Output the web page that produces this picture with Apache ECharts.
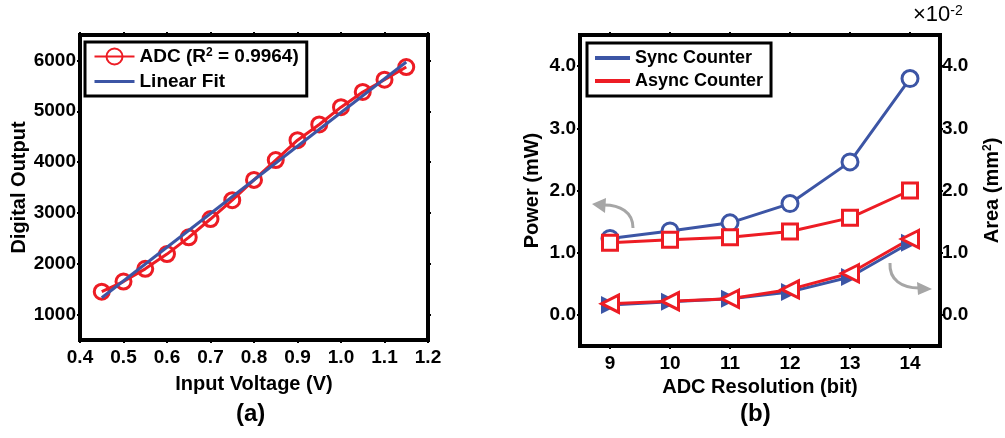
<!DOCTYPE html>
<html>
<head>
<meta charset="utf-8">
<script src="https://cdn.jsdelivr.net/npm/echarts@6/dist/echarts.min.js"></script>
<style>
  html, body { margin: 0; padding: 0; background: #fff; }
  #chart { width: 1005px; height: 438px; }
</style>
</head>
<body>
<div id="chart"></div>
<script>
// (a) ADC transfer curve
const voltage = [0.45, 0.5, 0.55, 0.6, 0.65, 0.7, 0.75, 0.8, 0.85, 0.9, 0.95, 1.0, 1.05, 1.1, 1.15];
const adcOutput = [1450, 1650, 1900, 2190, 2520, 2880, 3250, 3650, 4040, 4430, 4740, 5080, 5380, 5620, 5870];
const fitVoltage = [0.45, 1.15];
const fitOutput = [1330, 5970];
const voltageTicks = [0.4, 0.5, 0.6, 0.7, 0.8, 0.9, 1.0, 1.1, 1.2];
const outputTicks = [1000, 2000, 3000, 4000, 5000, 6000];

// (b) power / area vs resolution
const resolution = ["9", "10", "11", "12", "13", "14"];
const powerSync = [1.23, 1.35, 1.48, 1.79, 2.46, 3.80];
const powerAsync = [1.16, 1.21, 1.25, 1.34, 1.56, 2.00];
// area in units of 1e-2 mm^2
const areaSync = [0.16, 0.21, 0.26, 0.37, 0.61, 1.16];
const areaAsync = [0.18, 0.22, 0.26, 0.41, 0.67, 1.22];
const powerTicks = [0, 1, 2, 3, 4];

const RED = "#ED1C24";
const BLUE = "#3C55A5";
const FONT = "'Liberation Sans', Arial, sans-serif";

const chart = echarts.init(document.getElementById("chart"), null, { renderer: "canvas" });

const labelStyle = {
  color: "#000",
  fontFamily: FONT,
  fontWeight: "bold",
  fontSize: 19,
};
const supStyle = { fontFamily: FONT, fontWeight: "bold", fontSize: 12, verticalAlign: "top", lineHeight: 12 };
const nameStyle = {
  color: "#000",
  fontFamily: FONT,
  fontWeight: "bold",
  fontSize: 20,
  rich: { s: supStyle },
};
const tick = () => ({ show: true, inside: false, length: 3, lineStyle: { color: "#000", width: 2 } });
// plot frame drawn by the axis lines
const frame = () => ({ show: true, onZero: false, lineStyle: { color: "#000", width: 4, cap: "square" } });

const options = {
  backgroundColor: "#fff",
  animation: false,
  grid: [
    { left: 80, right: 577, top: 35, bottom: 98 },
    { left: 580, right: 65, top: 35, bottom: 92 },
  ],
  legend: [
    {
      data: [
        { name: "ADC" },
        {
          name: "Linear Fit",
          itemStyle: { color: "rgba(0,0,0,0)", borderColor: "rgba(0,0,0,0)", borderWidth: 0 },
          lineStyle: { color: BLUE, width: 3 },
        },
      ],
      left: 85,
      top: 42,
      orient: "vertical",
      itemGap: 6,
      itemWidth: 40,
      itemHeight: 20,
      padding: [5, 8, 5, 8],
      borderColor: "#000",
      borderWidth: 3,
      backgroundColor: "#fff",
      formatter: (name) => (name === "ADC" ? "ADC (R{s|2} = 0.9964)" : name),
      textStyle: { ...labelStyle, rich: { s: supStyle } },
    },
    {
      data: [
        { name: "Sync Counter", itemStyle: { color: BLUE, borderWidth: 0 } },
        { name: "Async Counter", itemStyle: { color: RED, borderWidth: 0 } },
      ],
      left: 587,
      top: 43,
      orient: "vertical",
      itemGap: 5,
      itemWidth: 35,
      itemHeight: 4,
      icon: "rect",
      padding: [6, 8, 6, 8],
      borderColor: "#000",
      borderWidth: 3,
      backgroundColor: "#fff",
      textStyle: { ...labelStyle, fontSize: 18 },
    },
  ],
  xAxis: [
    {
      gridIndex: 0,
      type: "value",
      position: "bottom",
      min: 0.4,
      max: 1.2,
      name: "Input Voltage (V)",
      nameLocation: "middle",
      nameGap: 34,
      nameTextStyle: nameStyle,
      axisLine: frame(),
      axisTick: { ...tick(), customValues: voltageTicks },
      axisLabel: { ...labelStyle, margin: 8, customValues: voltageTicks, formatter: (v) => v.toFixed(1) },
      splitLine: { show: false },
    },
    {
      gridIndex: 0,
      type: "value",
      position: "top",
      min: 0.4,
      max: 1.2,
      axisLine: frame(),
      axisTick: { ...tick(), customValues: voltageTicks },
      axisLabel: { show: false },
      splitLine: { show: false },
    },
    {
      gridIndex: 1,
      type: "category",
      position: "bottom",
      data: resolution,
      name: "ADC Resolution (bit)",
      nameLocation: "middle",
      nameGap: 30,
      nameTextStyle: nameStyle,
      axisLine: frame(),
      axisTick: { ...tick(), alignWithLabel: true },
      axisLabel: { ...labelStyle, margin: 8 },
      splitLine: { show: false },
    },
    {
      gridIndex: 1,
      type: "category",
      position: "top",
      data: resolution,
      axisLine: frame(),
      axisTick: { ...tick(), alignWithLabel: true },
      axisLabel: { show: false },
      splitLine: { show: false },
    },
  ],
  yAxis: [
    {
      gridIndex: 0,
      type: "value",
      position: "left",
      min: 500,
      max: 6500,
      name: "Digital Output",
      nameLocation: "middle",
      nameGap: 48,
      nameTextStyle: nameStyle,
      axisLine: frame(),
      axisTick: { ...tick(), customValues: outputTicks },
      axisLabel: { ...labelStyle, margin: 4, customValues: outputTicks, formatter: (v) => String(v) },
      splitLine: { show: false },
    },
    {
      gridIndex: 0,
      type: "value",
      position: "right",
      min: 500,
      max: 6500,
      axisLine: frame(),
      axisTick: { ...tick(), customValues: outputTicks },
      axisLabel: { show: false },
      splitLine: { show: false },
    },
    {
      gridIndex: 1,
      type: "value",
      position: "left",
      min: -0.5,
      max: 4.5,
      name: "Power (mW)",
      nameLocation: "middle",
      nameGap: 38,
      nameTextStyle: nameStyle,
      axisLine: frame(),
      axisTick: { ...tick(), customValues: powerTicks },
      axisLabel: { ...labelStyle, margin: 4, customValues: powerTicks, formatter: (v) => v.toFixed(1) },
      splitLine: { show: false },
    },
    {
      gridIndex: 1,
      type: "value",
      position: "right",
      min: -0.5,
      max: 4.5,
      name: "Area (mm{s|2})",
      nameLocation: "middle",
      nameRotate: 90,
      nameGap: 42,
      nameTextStyle: nameStyle,
      axisLine: frame(),
      axisTick: { ...tick(), customValues: powerTicks },
      axisLabel: { ...labelStyle, margin: 2, customValues: powerTicks, formatter: (v) => v.toFixed(1) },
      splitLine: { show: false },
    },
  ],
  series: [
    {
      name: "Linear Fit",
      type: "line",
      xAxisIndex: 0,
      yAxisIndex: 0,
      data: fitVoltage.map((v, i) => [v, fitOutput[i]]),
      symbol: "none",
      lineStyle: { color: BLUE, width: 3 },
      itemStyle: { color: BLUE },
      z: 3,
    },
    {
      name: "ADC",
      type: "line",
      xAxisIndex: 0,
      yAxisIndex: 0,
      data: voltage.map((v, i) => [v, adcOutput[i]]),
      symbol: "circle",
      symbolSize: 15,
      showAllSymbol: true,
      lineStyle: { color: RED, width: 3 },
      itemStyle: { color: "rgba(255,255,255,0)", borderColor: RED, borderWidth: 3 },
      z: 2,
    },
    {
      name: "Sync Counter",
      type: "line",
      xAxisIndex: 2,
      yAxisIndex: 2,
      data: powerSync,
      symbol: "circle",
      symbolSize: 16,
      lineStyle: { color: BLUE, width: 3 },
      itemStyle: { color: "#fff", borderColor: BLUE, borderWidth: 3 },
    },
    {
      name: "Async Counter",
      type: "line",
      xAxisIndex: 2,
      yAxisIndex: 2,
      data: powerAsync,
      symbol: "rect",
      symbolSize: 15,
      lineStyle: { color: RED, width: 3 },
      itemStyle: { color: "#fff", borderColor: RED, borderWidth: 3 },
    },
    {
      name: "Sync Area",
      type: "line",
      xAxisIndex: 2,
      yAxisIndex: 3,
      data: areaSync,
      symbol: "path://M0,0 L10,5 L0,10 Z",
      symbolSize: [18, 18],
      lineStyle: { color: BLUE, width: 3 },
      itemStyle: { color: BLUE, borderColor: BLUE, borderWidth: 0 },
    },
    {
      name: "Async Area",
      type: "line",
      xAxisIndex: 2,
      yAxisIndex: 3,
      data: areaAsync,
      symbol: "path://M10,0 L0,5 L10,10 Z",
      symbolSize: [17, 17],
      lineStyle: { color: RED, width: 3 },
      itemStyle: { color: "#fff", borderColor: RED, borderWidth: 3 },
    },
  ],
  graphic: [
    {
      type: "text",
      left: 913,
      top: 4,
      style: {
        text: "×10{s|-2}",
        fill: "#000",
        font: "22px " + FONT,
        rich: { s: { fontFamily: FONT, fontSize: 14, verticalAlign: "top", lineHeight: 14, fill: "#000" } },
      },
    },
    // gray arrows pointing to the axes
    {
      type: "bezierCurve",
      shape: { x1: 633, y1: 228, cpx1: 633, cpy1: 212, cpx2: 620, cpy2: 205, x2: 604, y2: 205 },
      style: { stroke: "#A6A6A6", lineWidth: 3, fill: null },
    },
    {
      type: "polygon",
      shape: { points: [[592, 204], [606, 198], [605, 213]] },
      style: { fill: "#A6A6A6" },
    },
    {
      type: "bezierCurve",
      shape: { x1: 890, y1: 263, cpx1: 889, cpy1: 280, cpx2: 902, cpy2: 288, x2: 919, y2: 288 },
      style: { stroke: "#A6A6A6", lineWidth: 3, fill: null },
    },
    {
      type: "polygon",
      shape: { points: [[932, 289], [917, 282], [918, 295]] },
      style: { fill: "#A6A6A6" },
    },
    {
      type: "text",
      left: 236,
      top: 402,
      style: { text: "(a)", fill: "#000", font: "bold 24px " + FONT },
    },
    {
      type: "text",
      left: 740,
      top: 402,
      style: { text: "(b)", fill: "#000", font: "bold 24px " + FONT },
    },
  ],
};

chart.setOption(options);
window.addEventListener("resize", () => chart.resize());
</script>
</body>
</html>
